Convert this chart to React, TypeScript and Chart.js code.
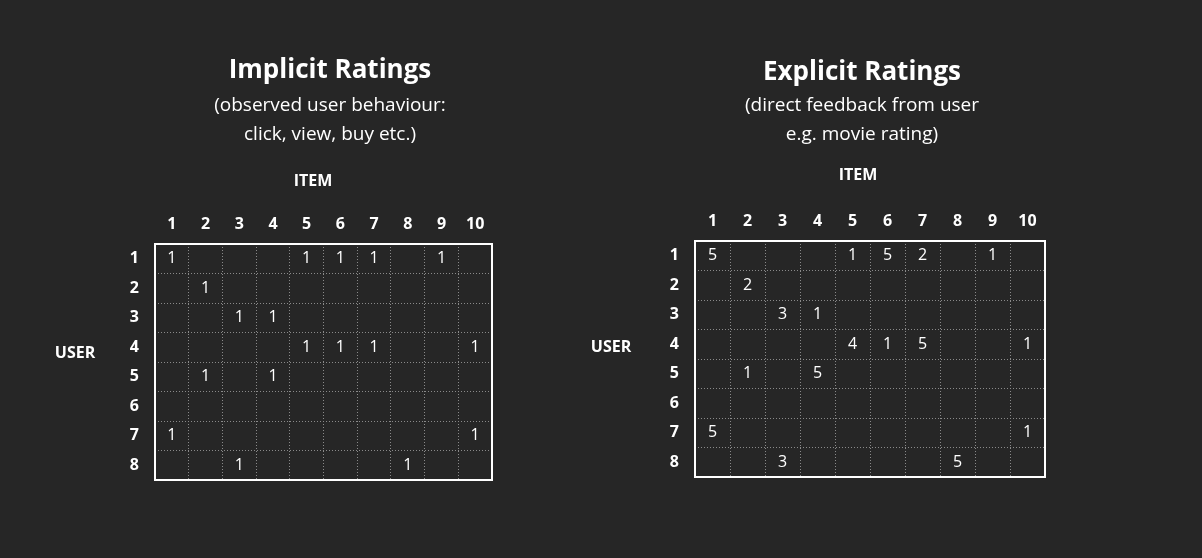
import React, { useEffect, useRef } from "react";
import { Chart, registerables } from "chart.js";
Chart.register(...registerables);

const items = ["1", "2", "3", "4", "5", "6", "7", "8", "9", "10"];
const users = ["1", "2", "3", "4", "5", "6", "7", "8"];
// [user, item, value]
const implicitCells: [number, number, number][] = [
  [1, 1, 1], [1, 5, 1], [1, 6, 1], [1, 7, 1], [1, 9, 1],
  [2, 2, 1], [3, 3, 1], [3, 4, 1],
  [4, 5, 1], [4, 6, 1], [4, 7, 1], [4, 10, 1],
  [5, 2, 1], [5, 4, 1], [7, 1, 1], [7, 10, 1], [8, 3, 1], [8, 8, 1],
];
const explicitCells: [number, number, number][] = [
  [1, 1, 5], [1, 5, 1], [1, 6, 5], [1, 7, 2], [1, 9, 1],
  [2, 2, 2], [3, 3, 3], [3, 4, 1],
  [4, 5, 4], [4, 6, 1], [4, 7, 5], [4, 10, 1],
  [5, 2, 1], [5, 4, 5], [7, 1, 5], [7, 10, 1], [8, 3, 3], [8, 8, 5],
];

const FONT = "'Open Sans', sans-serif";

function Matrix({ cells, pad }: { cells: [number, number, number][]; pad: { left: number; top: number; right: number; bottom: number } }) {
  const ref = useRef<HTMLCanvasElement>(null);
  useEffect(() => {
    const plugin = {
      id: "cells",
      afterDatasetsDraw(chart: any) {
        const ctx = chart.ctx;
        const meta = chart.getDatasetMeta(0);
        ctx.save();
        ctx.fillStyle = "#fff";
        ctx.font = `16px ${FONT}`;
        ctx.textAlign = "center";
        ctx.textBaseline = "middle";
        meta.data.forEach((p: any, i: number) => {
          ctx.fillText(String(cells[i][2]), p.x, p.y);
        });
        const a = chart.chartArea;
        ctx.strokeStyle = "#fff";
        ctx.lineWidth = 2;
        ctx.strokeRect(a.left, a.top, a.right - a.left, a.bottom - a.top);
        ctx.restore();
      },
    };
    const chart = new Chart(ref.current!, {
      type: "scatter",
      data: {
        datasets: [{
          data: cells.map((c) => ({ x: String(c[1]), y: String(c[0]) })) as any,
          pointRadius: 0,
        }],
      },
      options: {
        animation: false,
        responsive: false,
        layout: { padding: pad },
        plugins: { legend: { display: false }, tooltip: { enabled: false } },
        scales: {
          x: {
            type: "category", labels: items, position: "top", offset: true,
            grid: { offset: true, color: "#8a8a8a", drawTicks: false },
            border: { display: false, dash: [1, 2] },
            ticks: { color: "#fff", font: { family: FONT, size: 16, weight: "bold" }, padding: 10 },
            afterFit: (s: any) => { s.height = 30; },
          },
          y: {
            type: "category", labels: users, offset: true,
            grid: { offset: true, color: "#8a8a8a", drawTicks: false },
            border: { display: false, dash: [1, 2] },
            ticks: { color: "#fff", font: { family: FONT, size: 16, weight: "bold" }, padding: 16 },
            afterFit: (s: any) => { s.width = 40; },
          },
        },
      } as any,
      plugins: [plugin],
    });
    return () => chart.destroy();
  }, []);
  return <canvas ref={ref} width={601} height={558} />;
}

const T = (x: number, y: number, text: string, size: number, bold = false) => (
  <div style={{ position: "absolute", left: x - 300, top: y - size, width: 600, textAlign: "center", fontSize: size, lineHeight: `${size * 2}px`, fontWeight: bold ? 700 : 400, color: "#fff", fontFamily: FONT, whiteSpace: "nowrap" }}>{text}</div>
);

export default function App() {
  return (
    <div style={{ position: "fixed", left: 0, top: 0, width: 1202, height: 558, background: "#262626", overflow: "hidden" }}>
      <div style={{ position: "absolute", left: 0, top: 0 }}>
        <Matrix cells={implicitCells} pad={{ left: 115, top: 214, right: 109, bottom: 78 }} />
      </div>
      <div style={{ position: "absolute", left: 601, top: 0 }}>
        <Matrix cells={explicitCells} pad={{ left: 54, top: 211, right: 157, bottom: 81 }} />
      </div>
      {T(330, 68, "Implicit Ratings", 26, true)}
      {T(330, 104, "(observed user behaviour:", 19)}
      {T(330, 133, "click, view, buy etc.)", 19)}
      {T(313, 180, "ITEM", 16, true)}
      {T(75, 352, "USER", 16, true)}
      {T(862, 70, "Explicit Ratings", 26, true)}
      {T(862, 104, "(direct feedback from user", 19)}
      {T(862, 133, "e.g. movie rating)", 19)}
      {T(858, 174, "ITEM", 16, true)}
      {T(611, 346, "USER", 16, true)}
    </div>
  );
}
